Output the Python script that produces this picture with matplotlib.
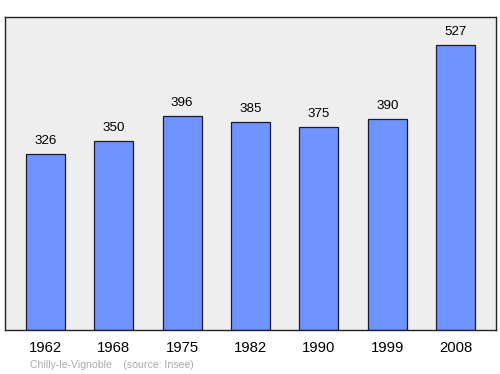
import matplotlib
matplotlib.use('Agg')
import matplotlib.pyplot as plt

years = ['1962', '1968', '1975', '1982', '1990', '1999', '2008']
population = [326, 350, 396, 385, 375, 390, 527]
source = 'Chilly-le-Vignoble    (source: Insee)'

plt.rcParams['font.family'] = ['Liberation Sans', 'DejaVu Sans']

fig = plt.figure(figsize=(5, 3.74), dpi=100)
# plot area in pixels: x 5..496, y 17..330
ax = fig.add_axes([5/500, 1 - 330/374, 491/500, 313/374])
ax.set_facecolor('#eeeeee')

pos = range(len(years))
ax.bar(pos, population, width=0.57, color='#7094ff', edgecolor='#1a1a2e', linewidth=0.9)
for x, v in zip(pos, population):
    ax.annotate(str(v), (x, v), xytext=(0, 5), textcoords='offset points',
                ha='center', va='bottom', fontsize=9.6)

ax.set_xlim(-0.59, 6.59)
ax.set_ylim(0, 579)
ax.set_xticks(list(pos))
ax.set_xticklabels(years, fontsize=10.7)
ax.tick_params(axis='x', length=0, pad=8)
ax.set_yticks([])
for s in ax.spines.values():
    s.set_linewidth(1.0)
    s.set_color('#222222')

fig.text(30/500, 1 - 365/374, source, fontsize=7.6, color='#aaaaaa', va='center')

plt.savefig('out.png', dpi=100)
